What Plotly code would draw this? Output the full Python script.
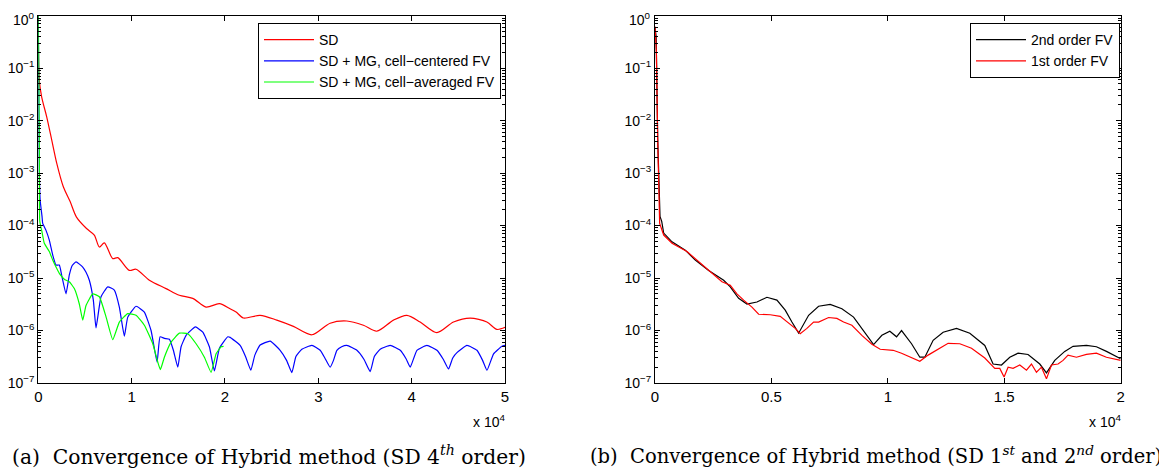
import plotly.graph_objects as go

# ---------------- Left panel data (SD 4th order) ----------------
sd_x = [0, 107, 364, 900, 1436, 1972, 2680, 3398, 4090, 5165, 6000, 6540, 7074, 7974, 8510,
        9753, 10472, 11897, 13687, 15113, 16548, 17974, 19400, 20547, 21190, 21972, 23762,
        25552, 27331, 29303, 31265, 33055, 34834, 36270, 38049, 39486, 40911, 42701, 44480,
        46270, 48060, 49132, 50000]
sd_y = [1.0, 0.059, 0.028, 0.0118, 0.0043, 0.00155, 5.5e-4, 2.9e-4, 1.45e-4, 8.8e-5, 6.6e-5,
        3.9e-5, 4.7e-5, 2.35e-5, 2.45e-5, 1.4e-5, 1.47e-5, 9.1e-6, 6.3e-6, 4.7e-6, 4.1e-6,
        2.8e-6, 3.25e-6, 2.6e-6, 2.25e-6, 1.73e-6, 1.95e-6, 1.58e-6, 1.2e-6, 8.3e-7, 1.38e-6,
        1.52e-6, 1.26e-6, 9.7e-7, 1.58e-6, 1.95e-6, 1.45e-6, 9.1e-7, 1.45e-6, 1.73e-6,
        1.45e-6, 1.05e-6, 1.15e-6]

cc_x = [0, 60, 107, 200, 400, 472, 825, 1179, 1544, 1897, 2251, 2541, 2969, 3323, 3650, 4041,
        4760, 5100, 5467, 5896, 6185, 6721, 7440, 8147, 8683, 9219, 9584, 10473, 11363, 12081,
        12725, 13046, 13507, 14043, 14472, 14944, 15297, 15833, 16830, 17624, 18331, 18867,
        19403, 20304, 20550, 21622, 22200, 22769, 23200, 23766, 24838, 25910, 26600, 27164,
        27600, 28236, 29308, 30198, 30700, 31270, 31624, 31988, 32500, 33060, 34132, 34900,
        35558, 36000, 36630, 37702, 38774, 39400, 39846, 40564, 41636, 42708, 43400, 43952,
        44400, 44852, 45924, 46996, 47600, 48068, 48776, 49676, 50000]
cc_y = [1.0, 1e-2, 1e-3, 3e-4, 1.5e-4, 1.1e-4, 8.1e-5, 5.3e-5, 2.75e-5, 1.77e-5, 1.77e-5,
        1.05e-5, 5.0e-6, 1.15e-5, 1.75e-5, 2.04e-5, 1.62e-5, 1.3e-5, 9.1e-6, 3.8e-6, 1.12e-6,
        4.4e-6, 6.8e-6, 5.9e-6, 2.8e-6, 7.8e-7, 1.8e-6, 2.9e-6, 2.25e-6, 1.0e-6, 2.5e-7,
        7.6e-7, 7.1e-7, 6.8e-7, 4.2e-7, 2.0e-7, 4.9e-7, 8.1e-7, 1.17e-6, 9.3e-7, 4.9e-7,
        1.7e-7, 4.6e-7, 7.6e-7, 7.4e-7, 5.2e-7, 3.2e-7, 1.75e-7, 3.4e-7, 5.3e-7, 6.3e-7,
        4.2e-7, 2.7e-7, 1.58e-7, 3.2e-7, 4.4e-7, 5.2e-7, 4.2e-7, 3.0e-7, 2.0e-7, 2.7e-7,
        4.2e-7, 4.9e-7, 5.2e-7, 4.2e-7, 2.8e-7, 1.65e-7, 3.2e-7, 4.4e-7, 5.2e-7, 4.2e-7,
        2.9e-7, 2.0e-7, 4.2e-7, 5.2e-7, 4.2e-7, 2.8e-7, 1.85e-7, 3.0e-7, 3.8e-7, 5.2e-7,
        4.2e-7, 2.7e-7, 1.75e-7, 3.6e-7, 5.0e-7, 5.2e-7]

ca_x = [0, 60, 110, 160, 400, 643, 1179, 1544, 1897, 2251, 2787, 3323, 3859, 4395, 4760,
        5113, 5832, 6539, 7257, 7976, 8683, 9584, 10473, 11363, 12264, 12800, 13078, 13507,
        14225, 15115, 16016, 16905, 17795, 18513, 19049, 19586, 19850]
ca_y = [1.0, 0.05, 3e-3, 1.2e-4, 7.5e-5, 4.6e-5, 3.2e-5, 2.2e-5, 1.62e-5, 1.23e-5, 9.5e-6,
        8.5e-6, 6.3e-6, 3.2e-6, 1.58e-6, 3.0e-6, 5.0e-6, 4.4e-6, 1.82e-6, 6.7e-7, 1.45e-6,
        2.1e-6, 1.95e-6, 1.26e-6, 5.6e-7, 2.5e-7, 1.8e-7, 3.1e-7, 6.0e-7, 8.9e-7, 8.7e-7,
        5.6e-7, 3.1e-7, 1.6e-7, 3.6e-7, 4.9e-7, 5.0e-7]

# ---------------- Right panel data (SD 1st / 2nd order) ----------------
fv2_x = [0, 50, 116, 215, 288, 373, 730, 1300, 1730, 2305, 2949, 3232, 3592, 3949, 4378, 4807,
         5236, 5593, 5880, 6168, 6597, 7026, 7524, 8026, 8528, 9026, 9387, 9743, 10086, 10374,
         10588, 11018, 11374, 11588, 11945, 12374, 12949, 13520, 14164, 14520, 14880, 15237,
         15593, 16022, 16524, 16812, 17168, 17597, 17954, 18529, 18958, 19387, 20000]
fv2_y = [0.6, 0.4, 4.5e-3, 1.5e-4, 1.2e-4, 7.2e-5, 4.9e-5, 3.4e-5, 2.2e-5, 1.4e-5, 9.1e-6,
         6.8e-6, 4.1e-6, 3.2e-6, 3.5e-6, 4.3e-6, 3.8e-6, 2.45e-6, 1.45e-6, 8.9e-7, 1.95e-6,
         2.9e-6, 3.15e-6, 2.6e-6, 1.8e-6, 8.7e-7, 5.4e-7, 8.1e-7, 9.7e-7, 7.6e-7, 1.0e-6,
         5.6e-7, 3.1e-7, 3.1e-7, 6.5e-7, 9.3e-7, 1.1e-6, 8.9e-7, 5.2e-7, 2.3e-7, 2.2e-7,
         3.1e-7, 3.7e-7, 3.5e-7, 2.3e-7, 1.56e-7, 2.7e-7, 4.0e-7, 5.0e-7, 5.2e-7, 4.9e-7,
         4.0e-7, 2.9e-7]

fv1_x = [0, 60, 116, 200, 373, 730, 1373, 1876, 2446, 2876, 3232, 3519, 3807, 4163, 4451,
         4949, 5378, 5665, 6022, 6236, 6524, 6811, 7026, 7455, 7811, 8099, 8455, 8884, 9314,
         9670, 10228, 10588, 11018, 11374, 11730, 12159, 12589, 13091, 13593, 14164, 14593,
         14807, 14992, 15164, 15378, 15666, 15953, 16168, 16382, 16597, 16812, 17026, 17310,
         17524, 17739, 18099, 18529, 18958, 19387, 20000]
fv1_y = [0.62, 0.2, 4.3e-3, 1.1e-4, 6.6e-5, 4.6e-5, 3.2e-5, 2.04e-5, 1.23e-5, 8.5e-6, 7.3e-6,
         5.0e-6, 3.8e-6, 2.8e-6, 2.04e-6, 2.0e-6, 1.86e-6, 1.45e-6, 1.1e-6, 8.7e-7, 1.1e-6,
         1.45e-6, 1.45e-6, 1.77e-6, 1.7e-6, 1.45e-6, 1.26e-6, 8.1e-7, 5.5e-7, 4.4e-7, 4.2e-7,
         3.7e-7, 3.0e-7, 2.6e-7, 3.4e-7, 4.4e-7, 5.7e-7, 5.6e-7, 4.6e-7, 3.0e-7, 1.9e-7,
         1.9e-7, 1.3e-7, 2.0e-7, 1.9e-7, 2.2e-7, 1.75e-7, 2.3e-7, 1.6e-7, 2.0e-7, 1.2e-7,
         2.2e-7, 2.3e-7, 2.7e-7, 3.4e-7, 3.1e-7, 3.5e-7, 3.7e-7, 3.1e-7, 2.7e-7]

# ---------------- Tick labels ----------------
y_tickvals = [1e-7, 1e-6, 1e-5, 1e-4, 1e-3, 1e-2, 1e-1, 1e0]
# the top label (10^0) is drawn as an annotation so it is not clipped at the page edge
y_ticktext = ["10<sup>−7</sup>", "10<sup>−6</sup>", "10<sup>−5</sup>", "10<sup>−4</sup>",
              "10<sup>−3</sup>", "10<sup>−2</sup>", "10<sup>−1</sup>", ""]
y_top_label = "10<sup>0</sup>"
left_xtickvals = [0, 10000, 20000, 30000, 40000, 50000]
left_xticktext = ["0", "1", "2", "3", "4", "5"]
right_xtickvals = [0, 5000, 10000, 15000, 20000]
right_xticktext = ["0", "0.5", "1", "1.5", "2"]

minor_vals = [m * 10.0 ** e for e in range(-7, 0) for m in range(2, 10)]

W, H = 1167, 472
OFF = 8  # page body margin in the browser
def px(x):
    return (x - OFF) / W
def py(y):
    return 1 - (y - OFF) / H

fig = go.Figure()

fig.add_trace(go.Scatter(x=sd_x, y=sd_y, mode="lines", name="SD",
                         line=dict(color="#ff0000", width=1.2, shape="spline", smoothing=0.8),
                         xaxis="x", yaxis="y", legend="legend"))
fig.add_trace(go.Scatter(x=cc_x, y=cc_y, mode="lines", name="SD + MG, cell−centered FV",
                         line=dict(color="#0000ff", width=1.2, shape="spline", smoothing=0.4),
                         xaxis="x", yaxis="y", legend="legend"))
fig.add_trace(go.Scatter(x=ca_x, y=ca_y, mode="lines", name="SD + MG, cell−averaged FV",
                         line=dict(color="#00ff00", width=1.2, shape="spline", smoothing=0.4),
                         xaxis="x", yaxis="y", legend="legend"))

fig.add_trace(go.Scatter(x=fv2_x, y=fv2_y, mode="lines", name="2nd order FV",
                         line=dict(color="#000000", width=1.2), xaxis="x2", yaxis="y2", legend="legend2"))
fig.add_trace(go.Scatter(x=fv1_x, y=fv1_y, mode="lines", name="1st order FV",
                         line=dict(color="#ff0000", width=1.2), xaxis="x2", yaxis="y2", legend="legend2"))

tickfont = dict(family="Liberation Sans, Arial, sans-serif", size=14, color="black")

def xaxis(domain, rng, tv, tt, anchor):
    return dict(domain=domain, range=rng, tickmode="array", tickvals=tv, ticktext=tt,
                ticks="inside", ticklen=5, tickcolor="black", showline=True, linecolor="black",
                linewidth=1, mirror="ticks", showgrid=False, zeroline=False, anchor=anchor,
                tickfont=dict(tickfont, size=15), automargin=False, ticklabeloverflow="allow")

def yaxis(domain, anchor):
    return dict(domain=domain, type="log", range=[-7, 0], tickmode="array",
                tickvals=y_tickvals, ticktext=y_ticktext,
                ticks="inside", ticklen=5, tickcolor="black", showline=True, linecolor="black",
                linewidth=1, mirror="ticks", showgrid=False, zeroline=False, anchor=anchor,
                tickfont=tickfont, automargin=False, ticklabeloverflow="allow",
                minor=dict(tickmode="array", tickvals=minor_vals, ticks="inside", ticklen=3,
                           tickcolor="black", showgrid=False))

legfont = dict(family="Liberation Sans, Arial, sans-serif", size=14, color="black")
ydom = [py(383), py(15.7)]
fig.update_layout(
    width=W, height=H,
    margin=dict(l=0, r=0, t=0, b=0, autoexpand=False),
    paper_bgcolor="white", plot_bgcolor="white",
    xaxis=xaxis([px(38.3), px(505)], [0, 50000], left_xtickvals, left_xticktext, "y"),
    yaxis=yaxis(ydom, "x"),
    xaxis2=xaxis([px(655), px(1120.7)], [0, 20000], right_xtickvals, right_xticktext, "y2"),
    yaxis2=yaxis(ydom, "x2"),
    legend=dict(x=px(258), y=py(23), xanchor="left", yanchor="top",
                bordercolor="black", borderwidth=1, bgcolor="white",
                font=legfont, itemwidth=50, tracegroupgap=0),
    legend2=dict(x=px(970), y=py(23), xanchor="left", yanchor="top",
                 bordercolor="black", borderwidth=1, bgcolor="white",
                 font=legfont, itemwidth=50, tracegroupgap=0),
    showlegend=True,
)

for xr in (35.5, 652):
    fig.add_annotation(text=y_top_label, x=px(xr), y=py(8.5), xref="paper", yref="paper",
                       xanchor="right", yanchor="top", showarrow=False, font=tickfont,
                       borderpad=0)

fig.add_annotation(text="x 10<sup>4</sup>", x=px(507), y=py(421), xref="paper", yref="paper",
                   xanchor="right", yanchor="middle", showarrow=False, font=tickfont)
fig.add_annotation(text="x 10<sup>4</sup>", x=px(1123), y=py(421), xref="paper", yref="paper",
                   xanchor="right", yanchor="middle", showarrow=False, font=tickfont)
fig.add_annotation(text="(a)  Convergence of Hybrid method (SD 4<sup><i>th</i></sup> order)",
                   x=px(269), y=py(455), xref="paper", yref="paper", xanchor="center",
                   yanchor="middle", showarrow=False,
                   font=dict(family="DejaVu Serif, Liberation Serif, serif", size=20.3, color="black"))
fig.add_annotation(text="(b)  Convergence of Hybrid method (SD 1<sup><i>st</i></sup> and 2<sup><i>nd</i></sup> order)",
                   x=px(876), y=py(455), xref="paper", yref="paper", xanchor="center",
                   yanchor="middle", showarrow=False,
                   font=dict(family="DejaVu Serif, Liberation Serif, serif", size=19.5, color="black"))

fig.write_html("out.html")
